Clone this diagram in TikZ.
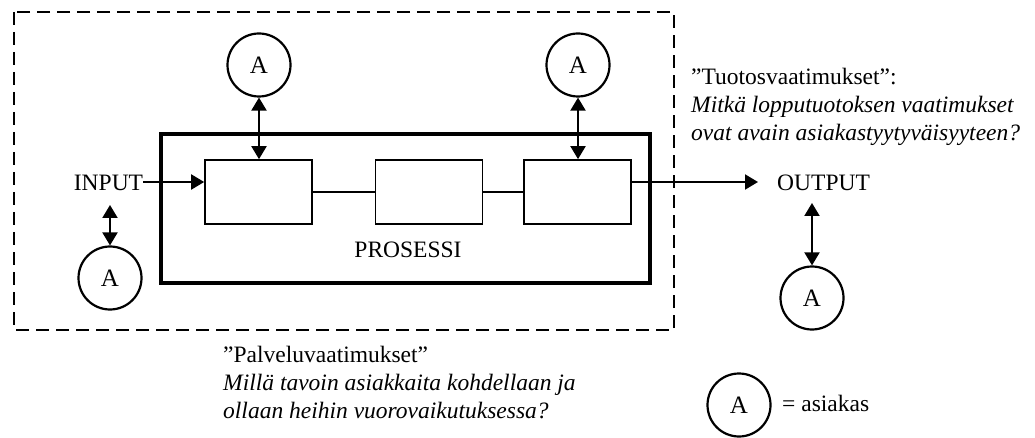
\documentclass[tikz,border=0pt]{standalone}
\usepackage{fontspec}
\setmainfont{Liberation Serif}
\usetikzlibrary{arrows.meta}
\begin{document}
\begin{tikzpicture}[x=1pt,y=-1pt,
  txt/.style={inner sep=0pt,font=\fontsize{23.5}{28}\selectfont},
  cust/.style={circle,draw,line width=2.2pt,minimum size=63pt,inner sep=0pt,
    font=\fontsize{25}{28}\selectfont},
  stage/.style={rectangle,draw,line width=1.7pt,minimum width=107pt,minimum height=64pt,inner sep=0pt},
  arr/.style={line width=2pt,-{Triangle[length=13pt,width=15pt]}},
  darr/.style={line width=2pt,{Triangle[length=13pt,width=15pt]}-{Triangle[length=13pt,width=15pt]}}]
\useasboundingbox (0,0) rectangle (1035,438);

% boundary of the service system
\draw[line width=2pt,dash pattern=on 13pt off 7pt] (14,12) rectangle (674,330);

% process frame and its stages
\node[rectangle,draw,line width=4pt,minimum width=489pt,minimum height=149pt,inner sep=0pt]
  (proc) at (405.5,208.5) {};
\node[stage] (s1) at (258.5,192) {};
\node[stage] (s2) at (429,192) {};
\node[stage] (s3) at (577.5,192) {};
\draw[line width=1.7pt] (s1.east) -- (s2.west);
\draw[line width=1.7pt] (s2.east) -- (s3.west);
\node[txt] (plabel) at (408,250) {PROSESSI};

% input and output
\node[txt] (in) at (108.5,183) {INPUT};
\node[txt,anchor=west] (out) at (777,183) {OUTPUT};
\draw[arr] (in.east |- 0,182) -- (s1.west |- 0,182);
\draw[arr,shorten >=19pt] (s3.east |- 0,182) -- (out.west |- 0,182);

% customers
\node[cust] (c1) at (259,65) {A};
\node[cust] (c2) at (578,65) {A};
\node[cust] (c3) at (110,278) {A};
\node[cust] (c4) at (812,298) {A};
\draw[darr] (c1.south) -- (c1.south |- s1.north);
\draw[darr] (c2.south) -- (c2.south |- s2.north);
\coordinate (inlow) at (110,205);
\coordinate (outlow) at (812,203);
\draw[darr] (inlow) -- (c3.north);
\draw[darr] (outlow) -- (c4.north);

% requirement descriptions
\node[txt,anchor=base west] (t1) at (691,85) {”Tuotosvaatimukset”:};
\node[txt,anchor=base west] (t2) at (691,113) {\itshape Mitkä lopputuotoksen vaatimukset};
\node[txt,anchor=base west] (t3) at (691,141) {\itshape ovat avain asiakastyytyväisyyteen?};

\node[txt,anchor=base west] (p1) at (223,362) {”Palveluvaatimukset”};
\node[txt,anchor=base west] (p2) at (223,390) {\itshape Millä tavoin asiakkaita kohdellaan ja};
\node[txt,anchor=base west] (p3) at (223,418) {\itshape ollaan heihin vuorovaikutuksessa?};

% legend
\node[cust] (leg) at (739,405) {A};
\node[txt,anchor=base west] (legtxt) at (782,411) {= asiakas};
\end{tikzpicture}
\end{document}
